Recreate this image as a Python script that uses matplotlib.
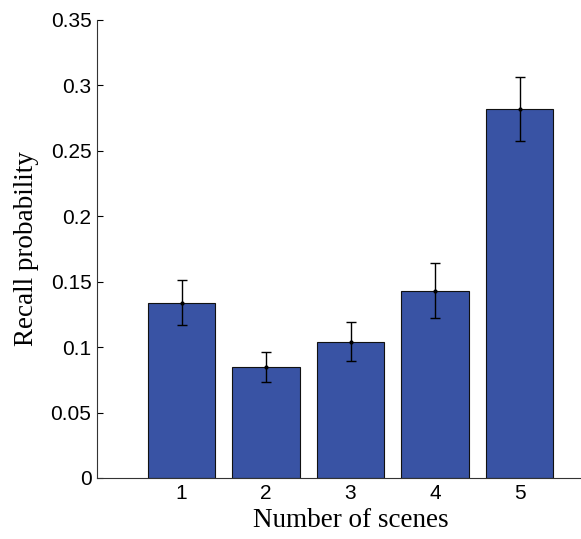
import matplotlib
matplotlib.use("Agg")
import matplotlib.pyplot as plt

scenes = [1, 2, 3, 4, 5]
recall = [0.134, 0.085, 0.104, 0.143, 0.282]
err = [0.0175, 0.0115, 0.015, 0.021, 0.0245]
yticks = [0, 0.05, 0.1, 0.15, 0.2, 0.25, 0.3, 0.35]
ytick_labels = ["0", "0.05", "0.1", "0.15", "0.2", "0.25", "0.3", "0.35"]

fig = plt.figure(figsize=(5.81, 5.39), dpi=100)
# axes runs past the right edge of the figure (xlim 0..6 like MATLAB)
ax = fig.add_axes([0.167, 0.1132, 0.8726, 0.85])

ax.bar(scenes, recall, width=0.8, color="#3953A4", edgecolor="#111111", linewidth=0.8, zorder=2)
ax.errorbar(scenes, recall, yerr=err, fmt=".", color="black", ecolor="black",
            elinewidth=1.0, capsize=3.5, capthick=1.0, markersize=4, zorder=3)

ax.set_xlim(0, 6)
ax.set_ylim(0, 0.35)
ax.set_xticks(scenes)
ax.set_yticks(yticks)
ax.set_yticklabels(ytick_labels)

for s in ["top", "right"]:
    ax.spines[s].set_visible(False)
for s in ["left", "bottom"]:
    ax.spines[s].set_linewidth(0.8)
    ax.spines[s].set_color("#333333")

ax.tick_params(direction="in", length=4, width=0.8, labelsize=15, pad=4)
for lbl in ax.get_xticklabels() + ax.get_yticklabels():
    lbl.set_family("Liberation Sans")

ax.set_xlabel("Number of scenes", family="Liberation Serif", fontsize=19.5, labelpad=4)
ax.set_ylabel("Recall probability", family="Liberation Serif", fontsize=19.5, labelpad=8)

fig.savefig("out.png", dpi=100)
